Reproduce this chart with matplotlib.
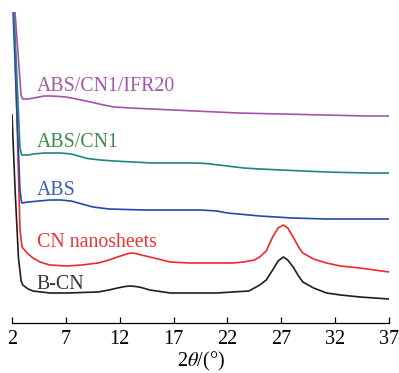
import matplotlib.pyplot as plt

plt.rcParams['font.family'] = ['Liberation Serif', 'DejaVu Serif']
plt.rcParams['mathtext.fontset'] = 'stix'

# XRD patterns, intensity in a.u. (stacked offsets already included)
tt_bcn = [2.0, 2.3, 2.6, 2.85, 3.0, 3.5, 3.95, 5.5, 7.1, 8.5, 10.0, 11.0, 11.8, 12.5, 13.0,
          13.5, 14.0, 14.8, 16.7, 18.5, 21.0, 22.5, 24.0, 25.0, 25.6, 26.2, 26.7, 27.2, 27.6,
          28.1, 28.6, 29.0, 30.0, 31.2, 32.5, 34.3, 37.0]
i_bcn = [208, 130, 65, 42, 38, 34, 32, 30, 30, 30.5, 31, 33, 35, 36.5, 37,
         36.5, 35.5, 33, 30, 30, 30, 31, 32, 38, 43, 53, 62, 66, 63,
         56, 47, 41, 35, 30, 28, 26, 24]

tt_cn = [2.0, 2.19, 2.74, 2.93, 3.4, 3.95, 4.6, 5.5, 7.1, 8.5, 10.0, 11.0, 11.8, 12.5, 13.0,
         13.5, 14.0, 14.8, 16.7, 18.5, 21.0, 22.5, 23.5, 24.5, 25.0, 25.6, 26.2, 26.7, 27.2,
         27.6, 28.1, 28.6, 29.0, 30.0, 31.2, 32.5, 34.3, 37.0]
i_cn = [420, 311, 93, 76, 70, 65, 61, 58, 57, 58, 60, 63, 66, 68.5, 70,
        69.5, 68, 66, 61, 60, 60, 60, 61, 63, 66, 72, 86, 95, 98,
        95, 86, 76, 70, 64, 60, 57, 55, 51]

tt_abs = [2.0, 2.1, 2.74, 2.9, 3.5, 4.5, 5.5, 6.5, 7.5, 8.5, 9.5, 11.0, 14.2, 17.0, 19.5,
          21.0, 22.0, 25.0, 28.0, 31.2, 34.0, 37.0]
i_abs = [380, 311, 133, 120, 121, 122, 123, 123, 122, 119, 116, 114, 113, 113, 113,
         112, 110, 107, 105, 104, 104, 104]

tt_cn1 = [2.0, 2.19, 2.74, 2.9, 3.5, 4.0, 5.0, 6.5, 7.5, 9.0, 10.2, 11.5, 13.2, 15.0, 17.0,
          19.0, 20.0, 22.0, 23.5, 25.0, 27.0, 29.0, 31.2, 33.0, 35.0, 37.0]
i_cn1 = [400, 311, 175, 168, 168, 169, 170, 170, 169, 164.5, 163, 162, 161, 160, 160,
         160, 159.5, 157, 155, 154, 153, 152, 151, 150.5, 150, 150]

tt_ifr = [2.0, 2.28, 2.84, 3.0, 3.5, 4.0, 5.0, 5.6, 6.5, 7.0, 8.0, 9.3, 10.5, 11.5, 13.0,
          15.0, 17.0, 19.0, 21.0, 23.0, 25.0, 27.0, 29.0, 31.0, 33.0, 35.0, 37.0]
i_ifr = [420, 311, 228, 224, 224, 225, 227, 227, 226.5, 226, 224, 221, 218, 216, 215,
         214, 213, 212, 211, 210, 209.5, 209, 208.5, 208, 207.5, 207, 207]

series = [
    ('B-CN', tt_bcn, i_bcn, '#1e1e1e', '#333333', 38.5),
    ('CN nanosheets', tt_cn, i_cn, '#ee2a2a', '#ee3333', 80.5),
    ('ABS', tt_abs, i_abs, '#2449a8', '#3a5db5', 132.5),
    ('ABS/CN1', tt_cn1, i_cn1, '#238282', '#3b8a4d', 180.5),
    ('ABS/CN1/IFR20', tt_ifr, i_ifr, '#a552ad', '#a556ad', 236.5),
]

fig = plt.figure(figsize=(3.99, 3.73), dpi=100)
ax = fig.add_axes([12 / 399, 1 - 323 / 373, 377 / 399, 311 / 373])

for name, tt, inten, lc, tc, ty in series:
    ax.plot(tt, inten, color=lc, lw=1.2)
    ax.text(4.3, ty, name, color=tc, fontsize=14.3, va='center', ha='left')

ax.set_xlim(2, 37)
ax.set_ylim(0, 311)
ax.set_xticks([2, 7, 12, 17, 22, 27, 32, 37])
ax.set_yticks([])
ax.spines[['top', 'right', 'left']].set_visible(False)
ax.spines['bottom'].set_linewidth(0.9)
ax.tick_params(axis='x', direction='in', length=4, width=0.9, labelsize=14.5, pad=5)
ax.set_xlabel(r'2$\mathit{\theta}$/(°)', fontsize=14.5, labelpad=1)

plt.savefig('out.png', dpi=100)
